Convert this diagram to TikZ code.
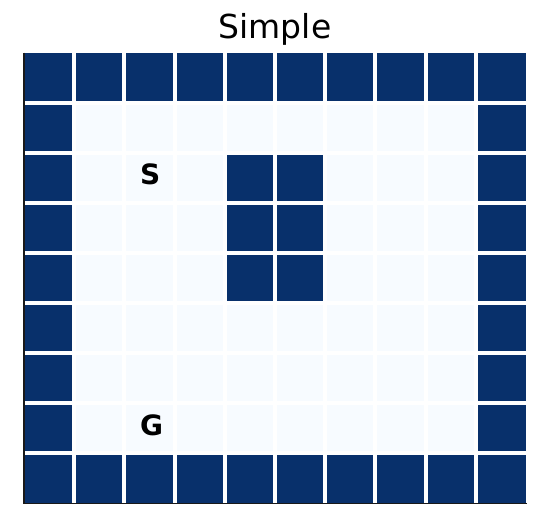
\documentclass[tikz,border=0pt]{standalone}
\usepackage{fontspec}
\setmainfont{DejaVu Sans}
\definecolor{darkcell}{HTML}{08306B}
\definecolor{lightcell}{HTML}{F7FBFF}
\begin{document}
\begin{tikzpicture}[x=1pt,y=-1pt,
  darkfill/.style={fill=darkcell},
  gridline/.style={draw=white,line width=4pt},
  spine/.style={draw=black!90,line width=1.4pt},
  marklabel/.style={font=\bfseries\fontsize{28}{32}\selectfont,anchor=base,inner sep=0pt},
  titlelabel/.style={font=\fontsize{33}{40}\selectfont,anchor=base,inner sep=0pt}]
\useasboundingbox[fill=white] (0,0) rectangle (540,528);
\def\cw{50.2}
\def\ch{50.03}
% light background of grid
\fill[lightcell] (24,52.7) rectangle (526,503);
% dark cells
\foreach \c/\r in {0/0,1/0,2/0,3/0,4/0,5/0,6/0,7/0,8/0,9/0,
                   0/8,1/8,2/8,3/8,4/8,5/8,6/8,7/8,8/8,9/8,
                   0/1,0/2,0/3,0/4,0/5,0/6,0/7,
                   9/1,9/2,9/3,9/4,9/5,9/6,9/7,
                   4/2,5/2,4/3,5/3,4/4,5/4}
  \fill[darkfill] ({24+\cw*\c},{52.7+\ch*\r}) rectangle ++(\cw,\ch);
% white grid lines
\foreach \i in {1,...,9}
  \draw[gridline] ({24+\cw*\i},52.7) -- ({24+\cw*\i},503);
\foreach \j in {1,...,8}
  \draw[gridline] (24,{52.7+\ch*\j}) -- (526,{52.7+\ch*\j});
% axes spines
\coordinate (topleft) at (24,52.5);
\coordinate (corner) at (24,503.4);
\coordinate (bottomright) at (526.5,503.4);
\draw[spine] (topleft) -- (corner) -- (bottomright);
% labels
\node[titlelabel] (title) at (275,38.3) {Simple};
\node[marklabel] (start) at (150.2,184.8) {S};
\node[marklabel] (goal) at (151.5,435.5) {G};
\end{tikzpicture}
\end{document}
